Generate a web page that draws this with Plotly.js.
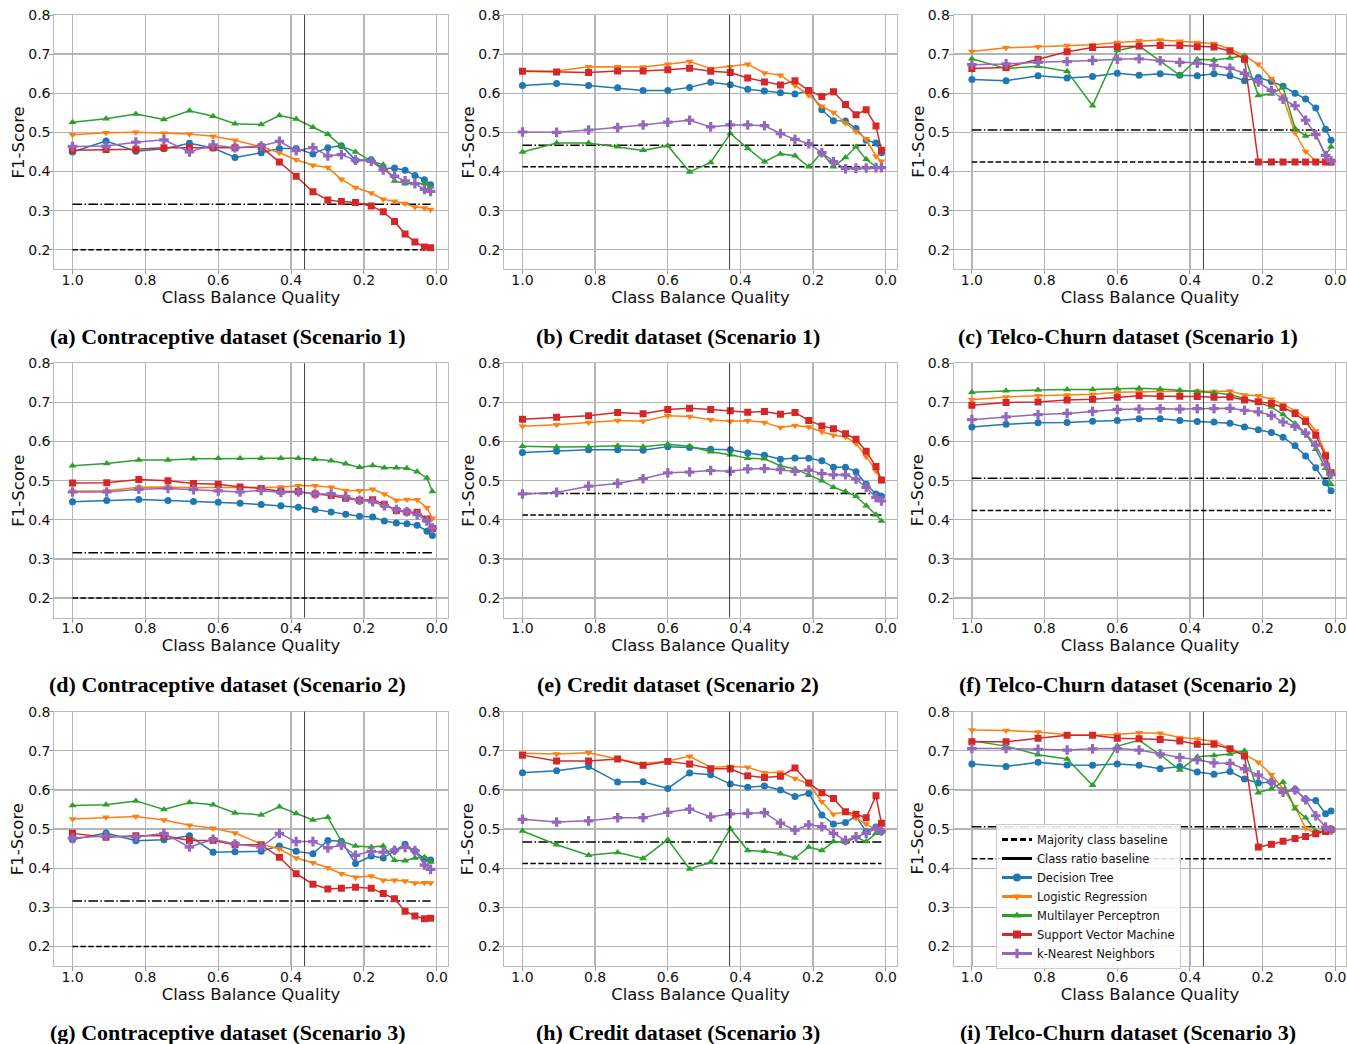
<!DOCTYPE html>
<html><head><meta charset="utf-8">
<script src="https://cdn.plot.ly/plotly-3.0.1.min.js"></script>
<style>html,body{margin:0;padding:0;background:#fff}#chart{width:1347px;height:1044px}</style>
</head><body><div id="chart"></div>
<script>
// ---------- data ----------
const balanceContra = [1.0,0.908,0.826,0.749,0.679,0.614,0.554,0.482,0.432,0.386,0.340,0.299,0.262,0.223,0.180,0.147,0.116,0.087,0.060,0.034,0.017];
const balance = [1.0,0.906,0.818,0.738,0.668,0.600,0.540,0.482,0.428,0.380,0.334,0.290,0.250,0.212,0.176,0.144,0.111,0.082,0.054,0.027,0.012];

const models = ['Decision Tree','Logistic Regression','Multilayer Perceptron','Support Vector Machine','k-Nearest Neighbors'];
const datasets = ['Contraceptive','Credit','Telco-Churn'];
const majorityBaseline = [0.200, 0.412, 0.424];
const classRatioBaseline = [0.316, 0.467, 0.506];
const originalBalance = [0.363, 0.430, 0.363];
const captions = [
 '(a) Contraceptive dataset (Scenario 1)','(b) Credit dataset (Scenario 1)','(c) Telco-Churn dataset (Scenario 1)',
 '(d) Contraceptive dataset (Scenario 2)','(e) Credit dataset (Scenario 2)','(f) Telco-Churn dataset (Scenario 2)',
 '(g) Contraceptive dataset (Scenario 3)','(h) Credit dataset (Scenario 3)','(i) Telco-Churn dataset (Scenario 3)'];

// (a) Contraceptive, Scenario 1
const contraS1_dt  = [0.450,0.478,0.452,0.458,0.472,0.460,0.436,0.448,0.459,0.459,0.445,0.461,0.466,0.429,0.430,0.407,0.409,0.403,0.390,0.379,0.366];
const contraS1_lr  = [0.494,0.499,0.500,0.498,0.496,0.490,0.480,0.463,0.448,0.430,0.416,0.410,0.380,0.359,0.345,0.329,0.324,0.318,0.309,0.307,0.303];
const contraS1_mlp = [0.526,0.535,0.547,0.533,0.555,0.541,0.522,0.520,0.543,0.534,0.513,0.495,0.465,0.450,0.427,0.417,0.376,0.369,0.370,0.369,0.361];
const contraS1_svm = [0.454,0.456,0.457,0.461,0.461,0.461,0.461,0.463,0.424,0.388,0.348,0.327,0.323,0.321,0.312,0.297,0.272,0.240,0.220,0.207,0.205];
const contraS1_knn = [0.464,0.465,0.475,0.481,0.450,0.468,0.461,0.465,0.477,0.453,0.461,0.440,0.443,0.429,0.426,0.404,0.388,0.376,0.369,0.354,0.349];
// (b) Credit, Scenario 1
const creditS1_dt  = [0.620,0.625,0.620,0.614,0.607,0.607,0.615,0.628,0.622,0.610,0.606,0.601,0.598,0.607,0.558,0.530,0.529,0.510,0.480,0.473,0.448];
const creditS1_lr  = [0.657,0.657,0.668,0.668,0.667,0.674,0.681,0.663,0.668,0.674,0.652,0.646,0.620,0.595,0.567,0.551,0.524,0.502,0.483,0.439,0.426];
const creditS1_mlp = [0.450,0.473,0.473,0.463,0.454,0.466,0.399,0.423,0.497,0.459,0.425,0.445,0.440,0.412,0.448,0.412,0.436,0.463,0.431,0.412,0.412];
const creditS1_svm = [0.656,0.654,0.653,0.657,0.657,0.660,0.664,0.656,0.653,0.639,0.629,0.621,0.632,0.607,0.592,0.604,0.571,0.545,0.558,0.516,0.454];
const creditS1_knn = [0.501,0.500,0.506,0.512,0.519,0.526,0.531,0.514,0.519,0.519,0.517,0.497,0.482,0.471,0.448,0.425,0.407,0.408,0.409,0.410,0.410];
// (c) Telco-Churn, Scenario 1
const telcoS1_dt  = [0.635,0.632,0.645,0.639,0.643,0.651,0.646,0.650,0.646,0.645,0.650,0.645,0.632,0.640,0.630,0.618,0.600,0.585,0.562,0.508,0.480];
const telcoS1_lr  = [0.707,0.716,0.719,0.722,0.724,0.730,0.734,0.736,0.733,0.730,0.727,0.713,0.696,0.674,0.638,0.590,0.499,0.451,0.427,0.425,0.425];
const telcoS1_mlp = [0.688,0.663,0.669,0.656,0.568,0.709,0.721,0.683,0.646,0.687,0.685,0.690,0.696,0.594,0.598,0.615,0.510,0.491,0.495,0.442,0.463];
const telcoS1_svm = [0.663,0.666,0.687,0.706,0.717,0.719,0.721,0.722,0.722,0.719,0.718,0.708,0.687,0.424,0.424,0.424,0.424,0.424,0.424,0.424,0.424];
const telcoS1_knn = [0.673,0.675,0.679,0.681,0.684,0.687,0.688,0.683,0.679,0.677,0.671,0.664,0.651,0.629,0.607,0.585,0.568,0.531,0.494,0.441,0.427];
// (d) Contraceptive, Scenario 2
const contraS2_dt  = [0.446,0.449,0.452,0.449,0.447,0.445,0.442,0.439,0.436,0.432,0.426,0.420,0.414,0.409,0.407,0.397,0.392,0.390,0.386,0.371,0.360];
const contraS2_lr  = [0.473,0.474,0.483,0.484,0.482,0.482,0.482,0.483,0.484,0.487,0.487,0.483,0.475,0.474,0.478,0.466,0.450,0.452,0.451,0.431,0.404];
const contraS2_mlp = [0.538,0.544,0.553,0.553,0.556,0.557,0.557,0.557,0.557,0.557,0.555,0.551,0.543,0.534,0.539,0.533,0.533,0.532,0.523,0.507,0.472];
const contraS2_svm = [0.494,0.495,0.503,0.500,0.493,0.491,0.484,0.480,0.473,0.472,0.466,0.462,0.455,0.450,0.451,0.440,0.424,0.420,0.419,0.402,0.378];
const contraS2_knn = [0.471,0.471,0.478,0.480,0.477,0.474,0.471,0.475,0.470,0.471,0.466,0.466,0.459,0.450,0.446,0.436,0.426,0.421,0.413,0.397,0.379];
// (e) Credit, Scenario 2
const creditS2_dt  = [0.572,0.575,0.579,0.579,0.578,0.587,0.585,0.580,0.579,0.571,0.565,0.555,0.558,0.557,0.551,0.534,0.534,0.523,0.491,0.466,0.460];
const creditS2_lr  = [0.639,0.643,0.649,0.654,0.652,0.666,0.664,0.656,0.652,0.653,0.649,0.636,0.641,0.637,0.625,0.616,0.612,0.595,0.562,0.525,0.500];
const creditS2_mlp = [0.588,0.586,0.587,0.589,0.587,0.593,0.588,0.574,0.566,0.557,0.556,0.538,0.530,0.514,0.500,0.483,0.472,0.460,0.436,0.413,0.397];
const creditS2_svm = [0.657,0.662,0.666,0.674,0.671,0.682,0.685,0.682,0.679,0.675,0.677,0.670,0.674,0.654,0.640,0.633,0.620,0.606,0.575,0.536,0.502];
const creditS2_knn = [0.466,0.470,0.486,0.493,0.505,0.520,0.522,0.526,0.524,0.530,0.531,0.528,0.524,0.527,0.518,0.515,0.515,0.504,0.483,0.457,0.448];
// (f) Telco-Churn, Scenario 2
const telcoS2_dt  = [0.637,0.644,0.648,0.649,0.652,0.654,0.658,0.658,0.654,0.651,0.650,0.647,0.637,0.630,0.623,0.611,0.589,0.563,0.533,0.495,0.474];
const telcoS2_lr  = [0.707,0.714,0.717,0.719,0.721,0.726,0.727,0.728,0.728,0.729,0.728,0.729,0.719,0.717,0.708,0.695,0.679,0.660,0.627,0.570,0.523];
const telcoS2_mlp = [0.726,0.730,0.732,0.733,0.733,0.735,0.736,0.734,0.731,0.727,0.725,0.720,0.710,0.700,0.688,0.669,0.646,0.621,0.580,0.532,0.490];
const telcoS2_svm = [0.693,0.700,0.701,0.706,0.708,0.713,0.717,0.716,0.716,0.715,0.713,0.714,0.706,0.702,0.697,0.687,0.672,0.651,0.616,0.563,0.520];
const telcoS2_knn = [0.656,0.663,0.669,0.672,0.677,0.682,0.683,0.684,0.683,0.684,0.684,0.685,0.680,0.676,0.667,0.650,0.639,0.622,0.591,0.541,0.516];
// (g) Contraceptive, Scenario 3
const contraS3_dt  = [0.473,0.490,0.470,0.473,0.483,0.441,0.442,0.443,0.457,0.443,0.437,0.471,0.469,0.412,0.431,0.426,0.445,0.461,0.444,0.423,0.421];
const contraS3_lr  = [0.526,0.530,0.532,0.523,0.510,0.502,0.490,0.462,0.449,0.426,0.414,0.401,0.386,0.377,0.380,0.369,0.369,0.367,0.362,0.363,0.362];
const contraS3_mlp = [0.560,0.562,0.572,0.550,0.568,0.562,0.541,0.536,0.557,0.540,0.523,0.530,0.469,0.457,0.454,0.457,0.420,0.419,0.426,0.428,0.416];
const contraS3_svm = [0.489,0.479,0.483,0.483,0.471,0.471,0.460,0.460,0.428,0.386,0.359,0.347,0.349,0.351,0.349,0.335,0.322,0.290,0.278,0.271,0.272];
const contraS3_knn = [0.477,0.482,0.480,0.489,0.454,0.474,0.462,0.454,0.489,0.468,0.468,0.452,0.459,0.433,0.443,0.441,0.446,0.453,0.445,0.408,0.397];
// (h) Credit, Scenario 3
const creditS3_dt  = [0.644,0.649,0.660,0.620,0.621,0.604,0.643,0.639,0.615,0.607,0.610,0.600,0.583,0.591,0.536,0.513,0.517,0.532,0.494,0.505,0.494];
const creditS3_lr  = [0.694,0.692,0.695,0.679,0.667,0.674,0.686,0.658,0.660,0.658,0.644,0.645,0.629,0.616,0.570,0.538,0.544,0.528,0.513,0.498,0.496];
const creditS3_mlp = [0.495,0.460,0.433,0.440,0.425,0.473,0.398,0.415,0.501,0.445,0.443,0.437,0.426,0.454,0.445,0.468,0.466,0.479,0.468,0.489,0.495];
const creditS3_svm = [0.689,0.674,0.674,0.679,0.663,0.673,0.666,0.654,0.654,0.636,0.632,0.635,0.656,0.618,0.593,0.578,0.544,0.538,0.529,0.585,0.515];
const creditS3_knn = [0.525,0.518,0.521,0.529,0.529,0.543,0.551,0.531,0.539,0.540,0.542,0.515,0.497,0.511,0.506,0.489,0.471,0.480,0.489,0.501,0.495];
// (i) Telco-Churn, Scenario 3
const telcoS3_dt  = [0.666,0.660,0.671,0.664,0.663,0.666,0.663,0.654,0.660,0.646,0.640,0.647,0.628,0.618,0.620,0.597,0.601,0.576,0.573,0.539,0.546];
const telcoS3_lr  = [0.753,0.752,0.748,0.741,0.740,0.742,0.746,0.745,0.734,0.730,0.724,0.707,0.691,0.671,0.639,0.603,0.557,0.502,0.489,0.494,0.496];
const telcoS3_mlp = [0.726,0.712,0.690,0.679,0.612,0.712,0.727,0.690,0.651,0.685,0.688,0.692,0.700,0.593,0.603,0.620,0.552,0.529,0.494,0.495,0.498];
const telcoS3_svm = [0.723,0.723,0.732,0.740,0.740,0.732,0.731,0.729,0.725,0.717,0.717,0.705,0.687,0.454,0.461,0.469,0.476,0.481,0.488,0.494,0.498];
const telcoS3_knn = [0.706,0.706,0.704,0.702,0.705,0.706,0.702,0.692,0.683,0.677,0.669,0.668,0.654,0.638,0.620,0.594,0.600,0.575,0.534,0.505,0.498];

// ---------- styling ----------
const colors  = ['#1f77b4','#ff7f0e','#2ca02c','#d62728','#9467bd'];
const symbols = ['circle','triangle-down','triangle-up','square','cross'];
const FONT = 'DejaVu Sans, Verdana, sans-serif';

const panels = [
  {x: balanceContra, d: 0, s: [contraS1_dt, contraS1_lr, contraS1_mlp, contraS1_svm, contraS1_knn]},
  {x: balance,       d: 1, s: [creditS1_dt, creditS1_lr, creditS1_mlp, creditS1_svm, creditS1_knn]},
  {x: balance,       d: 2, s: [telcoS1_dt, telcoS1_lr, telcoS1_mlp, telcoS1_svm, telcoS1_knn]},
  {x: balance,       d: 0, s: [contraS2_dt, contraS2_lr, contraS2_mlp, contraS2_svm, contraS2_knn]},
  {x: balance,       d: 1, s: [creditS2_dt, creditS2_lr, creditS2_mlp, creditS2_svm, creditS2_knn]},
  {x: balance,       d: 2, s: [telcoS2_dt, telcoS2_lr, telcoS2_mlp, telcoS2_svm, telcoS2_knn]},
  {x: balanceContra, d: 0, s: [contraS3_dt, contraS3_lr, contraS3_mlp, contraS3_svm, contraS3_knn]},
  {x: balance,       d: 1, s: [creditS3_dt, creditS3_lr, creditS3_mlp, creditS3_svm, creditS3_knn]},
  {x: balance,       d: 2, s: [telcoS3_dt, telcoS3_lr, telcoS3_mlp, telcoS3_svm, telcoS3_knn]},
];

const W = 1347, H = 1044;
const colPx = [[54.3, 447.7], [504.3, 896.7], [953.7, 1346.3]];
const rowTop = [15, 363.3, 711.7], plotH = 254.3;
const capX = [227.5, 677.5, 1127.5], capY = [336, 684, 1032];

const traces = [], shapes = [], annotations = [];
const layout = {
  width: W, height: H, margin: {l:0, r:0, t:0, b:0},
  paper_bgcolor: '#fff', plot_bgcolor: '#fff',
  font: {family: FONT, color: '#1a1a1a'},
  showlegend: true,
  legend: {x: 996/W, y: 1 - 824/H, xanchor: 'left', yanchor: 'top',
    bgcolor: 'rgba(255,255,255,0.85)', bordercolor: '#cccccc', borderwidth: 1,
    font: {family: FONT, size: 11.5, color: '#111'}, tracegroupgap: 0, itemwidth: 30},
  shapes, annotations
};

panels.forEach((p, k) => {
  const r = Math.floor(k / 3), c = k % 3, n = k + 1;
  const xa = 'x' + (n === 1 ? '' : n), ya = 'y' + (n === 1 ? '' : n);
  const xEnd = [p.x[0], p.x[p.x.length - 1]];
  traces.push({x: xEnd, y: [majorityBaseline[p.d], majorityBaseline[p.d]], xaxis: xa, yaxis: ya,
    mode: 'lines', line: {color: '#000', width: 1.5, dash: '5.5px,2.4px'}, showlegend: false, hoverinfo: 'skip'});
  traces.push({x: xEnd, y: [classRatioBaseline[p.d], classRatioBaseline[p.d]], xaxis: xa, yaxis: ya,
    mode: 'lines', line: {color: '#000', width: 1.5, dash: '9.6px,2.4px,1.5px,2.4px'}, showlegend: false, hoverinfo: 'skip'});
  p.s.forEach((vals, m) => {
    traces.push({x: p.x, y: vals, xaxis: xa, yaxis: ya, name: models[m], mode: 'lines+markers',
      line: {color: colors[m], width: 1.5},
      marker: {symbol: symbols[m], size: m === 4 ? 8 : 7, color: colors[m], line: {width: 0}},
      showlegend: false});
  });
  const axBase = {showline: true, mirror: true, linecolor: '#bcbcbc', linewidth: 1,
    showgrid: true, gridcolor: '#b4b4b4', gridwidth: 1.3, zeroline: false,
    ticks: 'outside', ticklen: 4, tickwidth: 1, tickcolor: '#9a9a9a',
    tickfont: {family: FONT, size: 14, color: '#111'}};
  layout['xaxis' + (n === 1 ? '' : n)] = Object.assign({}, axBase, {
    domain: [colPx[c][0] / W, colPx[c][1] / W], anchor: ya,
    range: [1.05, -0.03], tickmode: 'array', tickvals: [1.0, 0.8, 0.6, 0.4, 0.2, 0.0],
    ticktext: ['1.0','0.8','0.6','0.4','0.2','0.0'], ticklabelstandoff: -6,
    title: {text: 'Class Balance Quality', font: {family: FONT, size: 16.5, color: '#111'}, standoff: 4}});
  layout['yaxis' + (n === 1 ? '' : n)] = Object.assign({}, axBase, {
    domain: [1 - (rowTop[r] + plotH) / H, 1 - rowTop[r] / H], anchor: xa,
    range: [0.15, 0.8], tickmode: 'array', tickvals: [0.2,0.3,0.4,0.5,0.6,0.7,0.8],
    ticktext: ['0.2','0.3','0.4','0.5','0.6','0.7','0.8'], ticklabelstandoff: -4});
  // y-axis title placed like the reference
  annotations.push({xref: 'paper', yref: 'paper', x: (colPx[c][0] - 36) / W, y: 1 - (rowTop[r] + plotH / 2) / H,
    xanchor: 'center', yanchor: 'middle', textangle: -90, showarrow: false, text: 'F1-Score',
    font: {family: FONT, size: 16.5, color: '#111'}});
  shapes.push({type: 'line', xref: xa, yref: ya + ' domain', x0: originalBalance[p.d], x1: originalBalance[p.d],
    y0: 0, y1: 1, line: {color: 'rgba(0,0,0,0.75)', width: 1}, layer: 'above'});
  annotations.push({xref: 'paper', yref: 'paper', x: capX[c] / W, y: 1 - capY[r] / H,
    xanchor: 'center', yanchor: 'middle', showarrow: false,
    text: '<b>' + captions[k] + '</b>',
    font: {family: 'Liberation Serif, Times New Roman, serif', size: 22, color: '#000'}});
});

// legend entries (shown in panel i)
traces.push({x: [null], y: [null], xaxis: 'x9', yaxis: 'y9', mode: 'lines', name: 'Majority class baseline',
  line: {color: '#000', width: 3, dash: '6px,3px'}, showlegend: true});
traces.push({x: [null], y: [null], xaxis: 'x9', yaxis: 'y9', mode: 'lines', name: 'Class ratio baseline',
  line: {color: '#000', width: 3}, showlegend: true});
models.forEach((m, i) => {
  traces.push({x: [null], y: [null], xaxis: 'x9', yaxis: 'y9', mode: 'lines+markers', name: m,
    line: {color: colors[i], width: 3}, marker: {symbol: symbols[i], size: 8, color: colors[i]}, showlegend: true});
});

Plotly.newPlot('chart', traces, layout, {displayModeBar: false, staticPlot: true});
</script></body></html>
